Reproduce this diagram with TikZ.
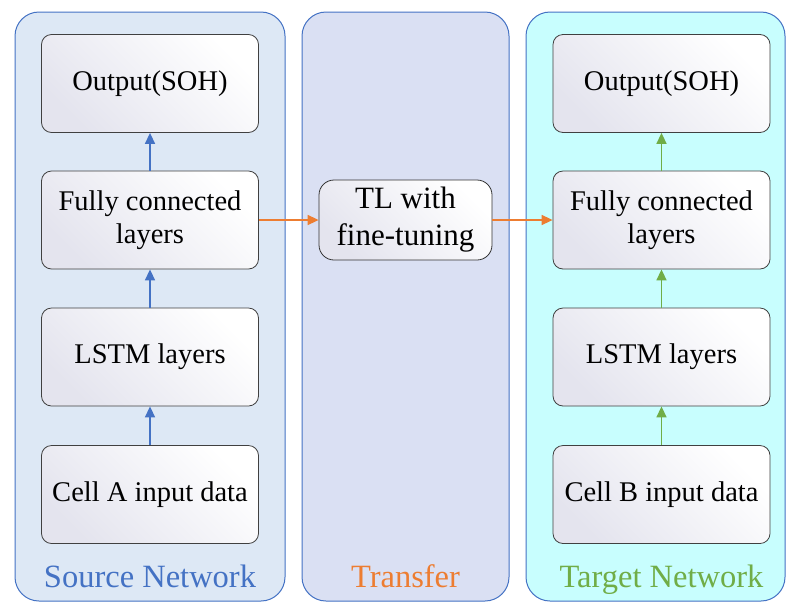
\documentclass[tikz,border=0pt]{standalone}
\usepackage{fontspec}
\setmainfont{Liberation Serif}
\usetikzlibrary{arrows.meta}
\definecolor{srcfill}{HTML}{DDE8F5}
\definecolor{midfill}{HTML}{DAE0F3}
\definecolor{tgtfill}{HTML}{C8FEFE}
\definecolor{panelline}{HTML}{4472C4}
\definecolor{blueA}{HTML}{4472C4}
\definecolor{orangeA}{HTML}{ED7D31}
\definecolor{greenA}{HTML}{70AD47}
\definecolor{boxshade}{HTML}{E4E4EE}
\tikzset{
  panel/.style={draw=panelline, line width=1pt, rounded corners=24pt},
  layerbox/.style={draw=black!75, line width=0.8pt, rounded corners=10pt,
    minimum width=217pt, minimum height=98pt, align=center, inner sep=0pt,
    left color=boxshade, right color=white, shading angle=135,
    font=\fontsize{28.5}{33}\selectfont},
  tlbox/.style={draw=black!80, line width=0.8pt, rounded corners=15pt,
    minimum width=173pt, minimum height=80pt, align=center, inner sep=0pt,
    left color=boxshade, right color=white, shading angle=135,
    font=\fontsize{31}{37}\selectfont},
  uparrow/.style={line width=1.5pt, -{Triangle[length=11pt,width=10pt]}},
  tarrow/.style={draw=orangeA, line width=1.5pt, -{Triangle[length=11pt,width=10pt]}},
  paneltitle/.style={anchor=base, font=\fontsize{32.5}{38}\selectfont}
}
\begin{document}
\begin{tikzpicture}[x=1pt,y=-1pt]
\useasboundingbox (0,0) rectangle (786,603);
\fill[white] (0,0) rectangle (786,603);
\draw[panel, fill=srcfill] (15,12) rectangle (285,601);
\draw[panel, fill=midfill] (302,12) rectangle (509,601);
\draw[panel, fill=tgtfill] (526,12) rectangle (785,601);

\node[layerbox] (sout) at (150,83.5) {Output(SOH)};
\node[layerbox] (sfc) at (150,220) {Fully connected\\layers};
\node[layerbox] (slstm) at (150,357) {LSTM layers};
\node[layerbox] (sin) at (150,494.5) {Cell A input data};

\node[layerbox] (tout) at (661.5,83.5) {Output(SOH)};
\node[layerbox] (tfc) at (661.5,220) {Fully connected\\layers};
\node[layerbox] (tlstm) at (661.5,357) {LSTM layers};
\node[layerbox] (tin) at (661.5,494.5) {Cell B input data};

\node[tlbox] (tl) at (405.5,220) {TL with\\fine-tuning};

\draw[uparrow, draw=blueA, fill=blueA] (sin) -- (slstm);
\draw[uparrow, draw=blueA, fill=blueA] (slstm) -- (sfc);
\draw[uparrow, draw=blueA, fill=blueA] (sfc) -- (sout);
\draw[uparrow, draw=greenA, fill=greenA] (tin) -- (tlstm);
\draw[uparrow, draw=greenA, fill=greenA] (tlstm) -- (tfc);
\draw[uparrow, draw=greenA, fill=greenA] (tfc) -- (tout);

\draw[tarrow, fill=orangeA] (sfc) -- (tl);
\draw[tarrow, fill=orangeA] (tl) -- (tfc);

\node[paneltitle, text=blueA] (lsrc) at (150,587) {Source Network};
\node[paneltitle, text=orangeA] (ltr) at (405.5,587) {Transfer};
\node[paneltitle, text=greenA] (ltg) at (661.5,587) {Target Network};
\end{tikzpicture}
\end{document}
